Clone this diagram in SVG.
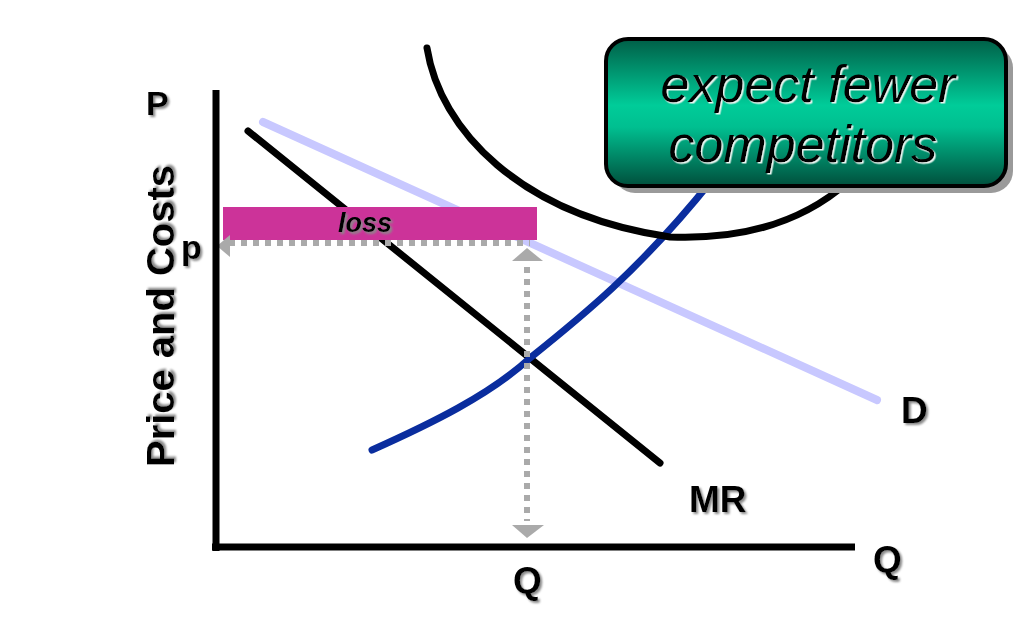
<svg xmlns="http://www.w3.org/2000/svg" width="1024" height="640" viewBox="0 0 1024 640">
  <defs>
    <linearGradient id="boxGrad" x1="0" y1="0" x2="0" y2="1">
      <stop offset="0" stop-color="#005f47"/>
      <stop offset="0.45" stop-color="#00cc99"/>
      <stop offset="0.6" stop-color="#00bf90"/>
      <stop offset="1" stop-color="#004f3c"/>
    </linearGradient>
    <filter id="lblShadow" x="-20%" y="-20%" width="150%" height="150%">
      <feDropShadow dx="2" dy="2" stdDeviation="0.8" flood-color="#8a8a8a" flood-opacity="1"/>
    </filter>
    <filter id="emboss" x="-10%" y="-20%" width="120%" height="150%">
      <feDropShadow dx="1.5" dy="1.5" stdDeviation="0.4" flood-color="#e8f5f0" flood-opacity="1"/>
    </filter>
    <marker id="arrowGray" viewBox="0 0 10 10" refX="2" refY="5" markerWidth="5" markerHeight="5" orient="auto" markerUnits="strokeWidth">
      <path d="M0,5 L10,0 L10,10 Z" fill="#aaaaaa"/>
    </marker>
  </defs>
  <style>
    .lbl { font-family: "Liberation Sans", Arial, sans-serif; font-weight: bold; fill: #000; filter: url(#lblShadow); }
    .curve { fill: none; stroke-linecap: round; stroke-linejoin: round; }
    .dots { stroke: #aaaaaa; stroke-width: 6; stroke-dasharray: 6 6; fill: none; }
    .arrowhead { fill: #aaaaaa; }
    .boxtxt { font-family: "Liberation Sans", Arial, sans-serif; font-style: italic; font-size: 52px; fill: #000; text-anchor: middle; filter: url(#emboss); }
  </style>

  <g id="curves">
    <line id="demand" x1="263" y1="122" x2="877" y2="400" stroke="#c8c8ff" stroke-width="8" class="curve" stroke-linecap="butt"/>
    <line id="mr" x1="248" y1="131" x2="660" y2="463" stroke="#000" stroke-width="7" class="curve" stroke-linecap="butt"/>
    <path id="mc" d="M372,450 C430,424 490,395 530,358 C580,318 640,270 712,180" stroke="#0a2d9e" stroke-width="7" class="curve"/>
    <path id="atc" d="M427,48 C440,130 520,215 670,237 C745,240 805,220 848,182" stroke="#000" stroke-width="7" class="curve"/>
  </g>

  <g id="loss">
    <rect x="223" y="207" width="314" height="33" fill="#cc3399"/>
    <text x="365" y="232" class="lbl" font-size="27" font-style="italic" text-anchor="middle">loss</text>
  </g>

  <g id="connectors">
    <line x1="229" y1="243" x2="530" y2="243" class="dots"/>
    <path class="arrowhead" d="M217,246 L230,235 L230,257 Z"/>
    <line x1="527" y1="267" x2="527" y2="521" class="dots"/>
    <path class="arrowhead" d="M527,248 L543,261 L512,261 Z"/>
    <path class="arrowhead" d="M527,538 L544,525 L512,525 Z"/>
  </g>

  <g id="axes">
    <line x1="216" y1="90" x2="216" y2="551" stroke="#000" stroke-width="7"/>
    <line x1="212" y1="547" x2="855" y2="547" stroke="#000" stroke-width="7"/>
  </g>

  <g id="labels">
    <text x="146" y="115" class="lbl" font-size="34">P</text>
    <text x="174" y="467" class="lbl" font-size="38" transform="rotate(-90 174 467)" textLength="302" lengthAdjust="spacingAndGlyphs">Price and Costs</text>
    <text x="181" y="259" class="lbl" font-size="34">p</text>
    <text x="901" y="423" class="lbl" font-size="37">D</text>
    <text x="689" y="512" class="lbl" font-size="37">MR</text>
    <text x="873" y="572" class="lbl" font-size="37">Q</text>
    <text x="513" y="593" class="lbl" font-size="37">Q</text>
  </g>

  <g id="box">
    <rect x="613" y="46" width="400" height="147" rx="22" fill="#9a9a9a"/>
    <rect x="606" y="39" width="400" height="147" rx="22" fill="url(#boxGrad)" stroke="#000" stroke-width="4"/>
    <text x="808" y="102" class="boxtxt">expect fewer</text>
    <text x="803" y="162" class="boxtxt">competitors</text>
  </g>
</svg>
